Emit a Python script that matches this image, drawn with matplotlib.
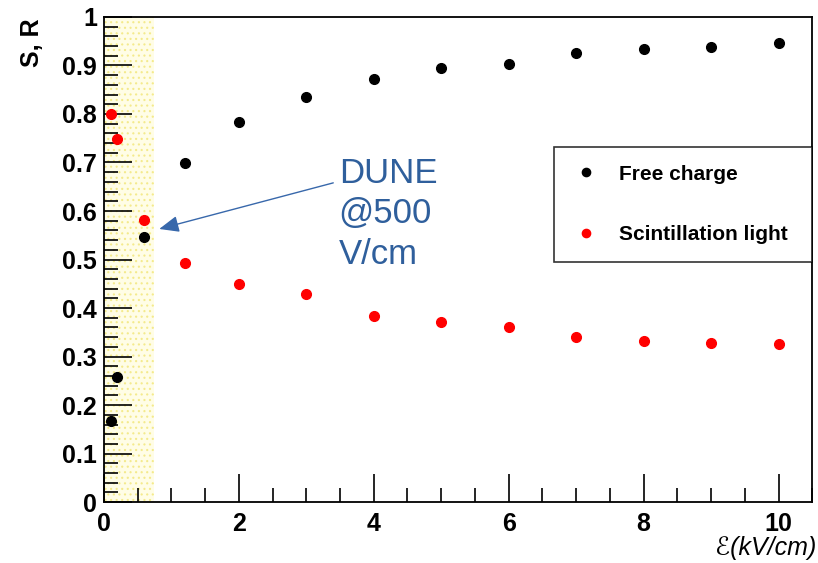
import numpy as np
import matplotlib
matplotlib.use('Agg')
import matplotlib.pyplot as plt
from matplotlib.ticker import MultipleLocator

# field values (kV/cm)
field = [0.1, 0.2, 0.6, 1.2, 2, 3, 4, 5, 6, 7, 8, 9, 10]
# free charge fraction
charge = [0.167, 0.257, 0.547, 0.698, 0.784, 0.835, 0.872, 0.895, 0.903, 0.926, 0.934, 0.938, 0.946]
# scintillation light fraction
light = [0.80, 0.749, 0.582, 0.492, 0.449, 0.428, 0.383, 0.372, 0.362, 0.340, 0.333, 0.329, 0.327]

band_lo, band_hi = 0.0, 0.75

plt.rcParams['font.family'] = ['Liberation Sans', 'DejaVu Sans']
plt.rcParams['hatch.linewidth'] = 0.8

fig = plt.figure(figsize=(8.18, 5.63), dpi=100)
ax = fig.add_axes([0.127, 0.108, 0.866, 0.862])

ax.axvspan(band_lo, band_hi, facecolor='#fffde6', edgecolor='#f4ea8c',
           hatch='...', linewidth=0, zorder=0)

ax.plot(field, charge, 'o', color='black', markersize=7, label='Free charge', zorder=3)
ax.plot(field, light, 'o', color='red', markersize=7, label='Scintillation light', zorder=3)

ax.set_xlim(0, 10.5)
ax.set_ylim(0, 1)
ax.xaxis.set_major_locator(MultipleLocator(2))
ax.xaxis.set_minor_locator(MultipleLocator(0.5))
ax.yaxis.set_minor_locator(MultipleLocator(0.02))
ax.tick_params(which='both', direction='in', top=False, right=False)
ax.tick_params(which='major', length=20, width=1.2)
ax.tick_params(which='minor', length=10, width=1.2)
ax.tick_params(axis='y', pad=5)
ax.tick_params(axis='x', pad=7)
ax.set_yticks(np.arange(0, 1.01, 0.1))
ax.set_yticklabels(['0'] + ['%.1f' % v for v in np.arange(0.1, 0.95, 0.1)] + ['1'])
for lbl in ax.get_xticklabels() + ax.get_yticklabels():
    lbl.set_fontsize(18)
    lbl.set_fontweight('bold')
for s in ax.spines.values():
    s.set_linewidth(1.3)

fig.text(0.039, 0.968, 'S, R', rotation=90, ha='center', va='top',
         fontsize=18, fontweight='bold')
fig.text(0.998, 0.027, '\u2130(kV/cm)', ha='right', va='center',
         fontsize=18, style='italic')

leg = ax.legend(loc='upper left', bbox_to_anchor=(0.636, 0.493, 0.363, 0.239),
                mode='expand', borderaxespad=0, frameon=True,
                fancybox=False, shadow=False, fontsize=15, handlelength=1.35,
                handletextpad=0.9, labelspacing=2.0, borderpad=0.85,
                markerscale=0.85)
leg.get_frame().set_edgecolor('black')
leg.get_frame().set_linewidth(1.2)
for t in leg.get_texts():
    t.set_fontweight('bold')

# DUNE note and arrow
ax.text(3.48, 0.594, 'DUNE\n@500\nV/cm', fontsize=25, color='#2f5f9c',
        ha='left', va='center', linespacing=1.3)
ax.annotate('', xy=(0.82, 0.563), xytext=(3.40, 0.658),
            arrowprops=dict(arrowstyle='-|>,head_length=1.2,head_width=0.5',
                            color='#3868ab', lw=1.0, shrinkA=0, shrinkB=0))

fig.savefig('out.png', dpi=100)
